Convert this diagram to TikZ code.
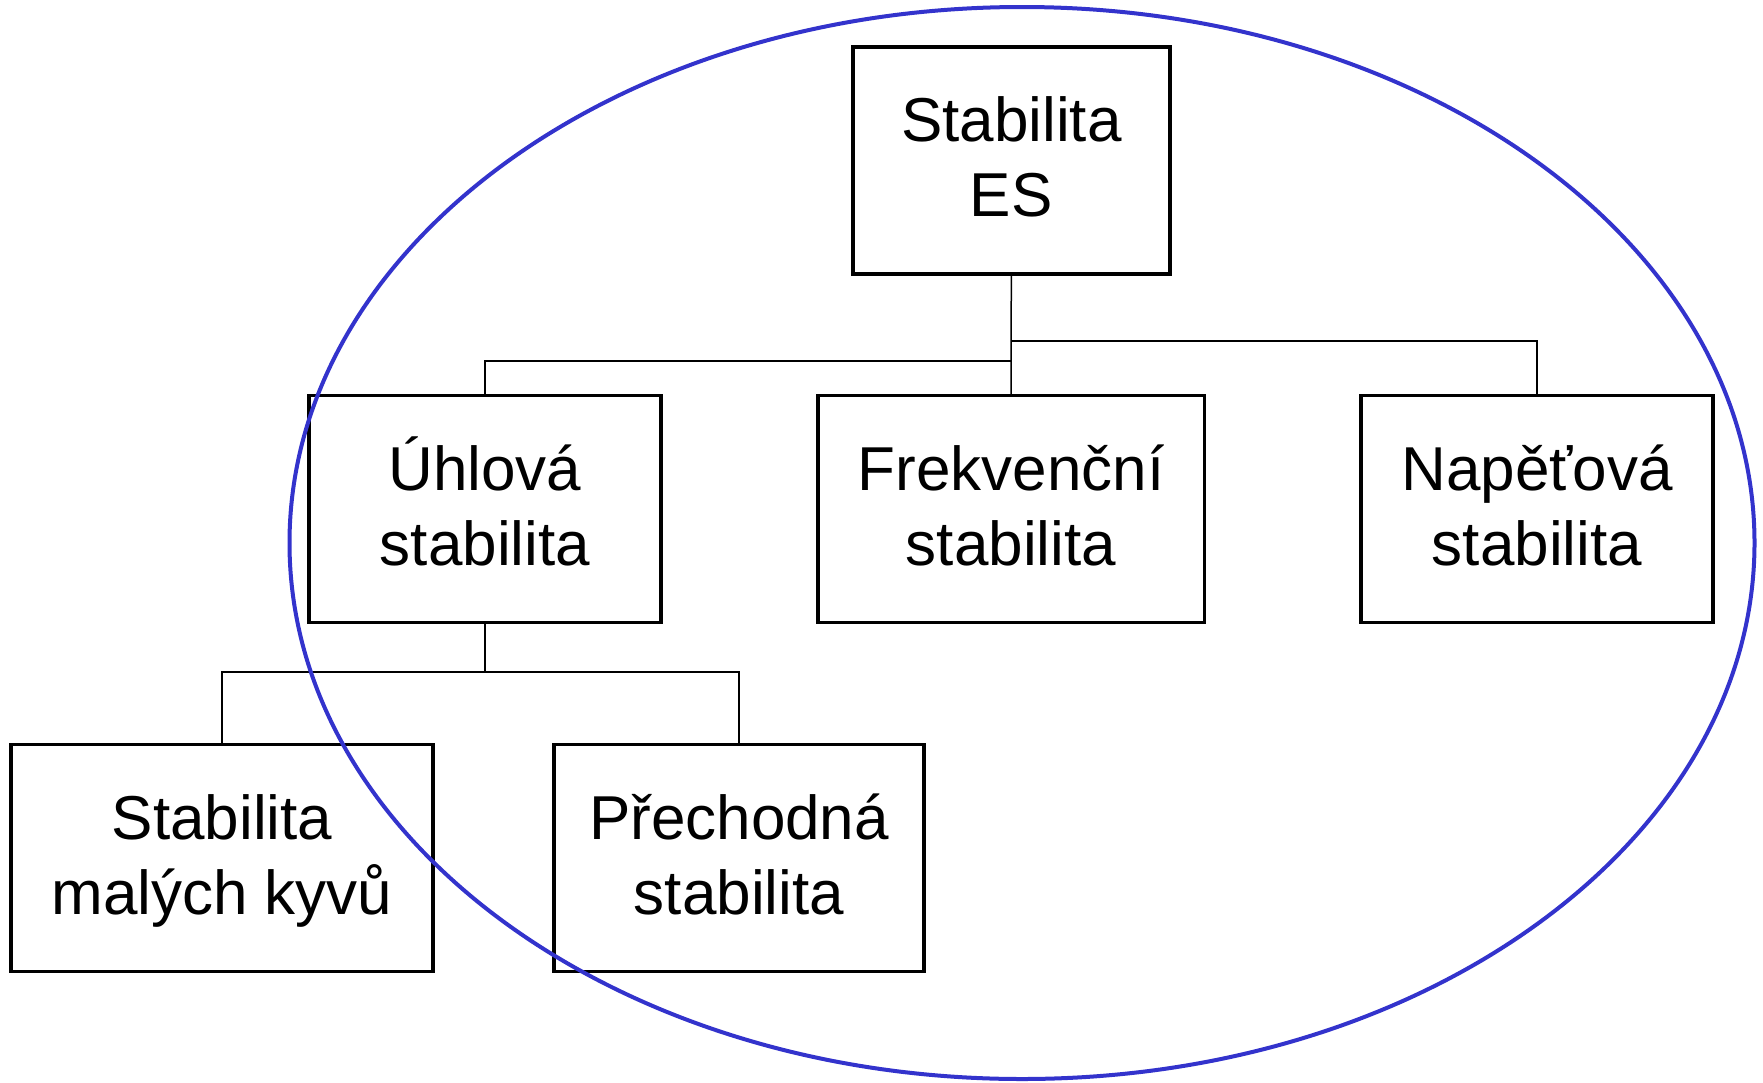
\documentclass[tikz,border=0pt]{standalone}
\usepackage{fontspec}
\setmainfont{Liberation Sans}
\definecolor{ellblue}{RGB}{51,51,204}
\newcommand\twolines[2]{\rule{0pt}{58pt}#1\\#2\rule[-20pt]{0pt}{0pt}}
\begin{document}
\begin{tikzpicture}[x=1pt,y=-1pt,
  box/.style={draw=black, line width=3.5pt, fill=white, rectangle, minimum height=227pt,
    align=center, inner sep=0pt, font=\fontsize{62}{75}\selectfont},
  conn/.style={draw=black, line width=1.5pt},
  ring/.style={draw=ellblue, line width=4pt}]
\useasboundingbox (0,0) rectangle (1763,1082);
\node[box, minimum width=317pt] (root) at (1011.3,160.3) {\twolines{Stabilita}{ES}};
\node[box, minimum width=352pt] (uhl) at (485,509) {\twolines{Úhlová}{stabilita}};
\node[box, minimum width=386.5pt] (frek) at (1011,509) {\twolines{Frekvenční}{stabilita}};
\node[box, minimum width=352pt] (nap) at (1537,509) {\twolines{Napěťová}{stabilita}};
\node[box, minimum width=422pt] (mal) at (222,858) {\twolines{Stabilita}{malých kyvů}};
\node[box, minimum width=370pt] (prech) at (739,858) {\twolines{Přechodná}{stabilita}};
\draw[conn] (root.south) -- (frek.north);
\draw[conn] (uhl.north) -- ++(0,-33) -| (root.south);
\draw[conn] (nap.north) -- ++(0,-53) -| (root.south);
\draw[conn] (mal.north) -- ++(0,-71) -| (uhl.south);
\draw[conn] (prech.north) -- ++(0,-71) -| (uhl.south);
\draw[ring] (1022,543) ellipse [x radius=732.5pt, y radius=536pt];
\end{tikzpicture}
\end{document}
